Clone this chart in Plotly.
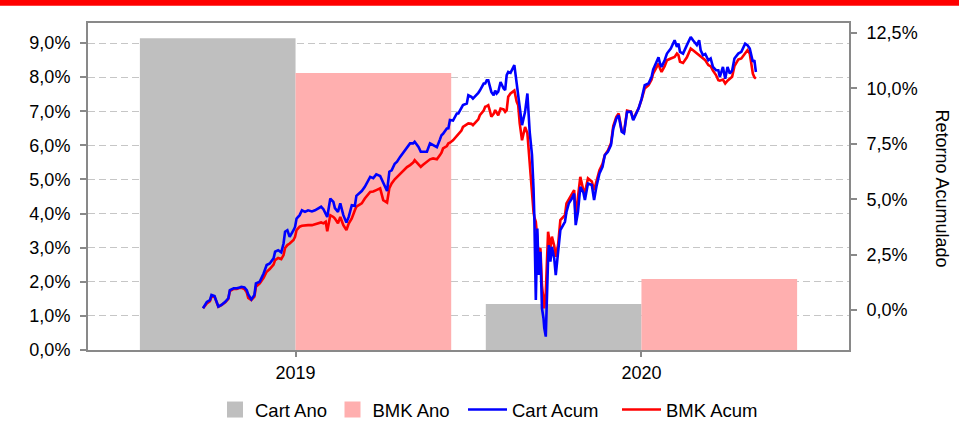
import pandas as pd
import plotly.graph_objects as go

# ---------------- data ----------------
years = ["2019", "2020"]
cart_ano = [9.14, 1.35]   # % annual return (left axis)
bmk_ano = [8.12, 2.08]

start_date = "2019-01-02"
day_offset = [0,5,9,11,15,18,20,24,29,33,35,40,44,48,50,54,57,59,63,67,69,74,79,83,87,92,94,98,102,105,
              107,110,113,118,120,122,126,129,133,137,142,146,150,154,157,160,162,166,170,172,176,179,183,187,190,194,198,200,207,211,
              218,222,226,231,235,240,243,246,250,253,257,261,266,270,274,276,281,284,287,292,296,300,305,309,311,313,318,320,322,326,
              331,333,337,339,344,346,350,352,359,361,366,368,370,372,374,376,379,381,383,385,388,392,394,396,398,401,406,409,411,413,
              416,420,423,426,429,431,432,434,436,437,438,440,442,444,445,447,448,449,450,451,453,455,458,460,463,466,472,474,477,481,
              484,486,489,492,496,498,502,507,510,513,517,521,524,528,532,535,539,542,546,549,553,558,561,565,568,572,576,581,585,587,
              592,594,596,598,602,605,610,615,618,620,622,626,631,636,639,644,647,649,652,655,659,662,665,669,672,674,678,681,684,687,
              690,693,698,702,707,710,713,717,719,721]

cart_acum = [0.08,0.37,0.45,0.68,0.63,0.37,0.15,0.23,0.37,0.53,0.90,0.98,0.98,1.02,1.05,1.02,0.90,0.70,0.48,0.68,1.20,1.28,1.65,2.03,2.10,2.33,2.63,2.70,2.60,3.00,
             3.53,3.60,3.30,3.60,3.75,4.13,4.28,4.50,4.43,4.50,4.45,4.50,4.58,4.66,4.55,4.36,4.20,5.03,4.88,4.60,4.43,4.81,4.28,3.95,4.20,4.73,4.70,5.15,5.37,5.56,
             6.01,5.95,6.12,6.05,5.71,5.37,6.24,6.30,6.60,6.69,6.91,7.10,7.33,7.52,7.52,7.59,7.36,7.14,7.14,7.14,7.52,7.45,7.35,7.70,7.89,7.95,8.19,8.20,8.57,8.55,
             8.87,8.87,9.17,9.25,9.32,9.69,9.62,9.54,9.80,9.90,10.22,10.22,10.37,10.37,10.10,9.84,9.69,9.90,9.77,9.85,10.29,9.99,9.92,10.60,10.74,10.70,11.05,10.29,9.84,9.20,
             8.34,8.94,9.77,8.04,7.00,5.49,4.28,0.45,3.68,2.50,1.58,2.63,0.08,-0.37,-0.80,-1.20,0.50,1.73,2.30,2.93,2.18,2.85,2.33,1.58,2.63,3.61,3.98,4.43,4.81,5.03,
             5.26,3.83,4.43,5.56,5.30,4.96,5.71,5.64,4.96,5.56,6.16,6.46,6.99,7.14,7.44,8.19,8.64,8.79,8.04,7.97,8.94,8.94,8.57,8.87,9.09,9.54,10.14,10.22,10.52,10.85,
             11.30,11.40,11.12,10.97,11.27,11.57,11.80,12.17,11.87,12.02,11.65,11.57,11.95,12.32,12.17,11.95,12.17,11.72,11.50,11.55,11.27,11.35,10.97,10.82,10.82,10.52,10.97,10.44,10.97,10.67,
             10.80,11.35,11.57,11.65,12.02,11.95,11.80,11.20,11.27,10.74]

bmk_acum = [0.08,0.30,0.40,0.60,0.60,0.35,0.15,0.22,0.35,0.50,0.85,0.95,0.95,1.00,1.00,0.95,0.80,0.55,0.45,0.60,1.05,1.20,1.45,1.73,1.85,2.05,2.25,2.35,2.30,2.48,
            2.80,2.93,3.00,3.16,3.30,3.61,3.76,3.80,3.83,3.83,3.83,3.86,3.90,3.95,3.91,3.98,3.55,4.28,4.20,4.13,3.91,4.20,3.83,3.61,3.90,4.13,4.50,4.66,4.81,5.03,
            5.33,5.35,5.41,5.49,4.96,4.85,5.50,5.71,5.90,6.01,6.15,6.31,6.45,6.54,6.65,6.76,6.60,6.46,6.55,6.69,6.80,6.84,6.80,6.99,7.10,7.29,7.40,7.52,7.55,7.66,
            7.85,7.97,8.10,8.26,8.35,8.42,8.40,8.34,8.60,8.79,9.00,9.17,9.20,9.24,9.00,8.72,8.85,9.02,8.90,8.79,9.09,9.05,8.94,9.02,9.62,9.77,9.90,9.40,9.24,8.42,
            7.66,8.26,7.97,6.69,5.03,4.43,4.20,3.98,3.20,2.63,2.70,2.78,1.13,0.50,0.08,0.80,1.95,2.80,3.53,3.30,2.78,3.31,2.90,2.40,2.93,4.06,4.28,4.81,5.00,5.25,
            5.41,4.20,5.00,6.01,5.41,5.30,5.94,5.80,5.41,5.80,6.31,6.60,6.99,7.20,7.52,8.30,8.72,8.87,8.10,8.00,9.00,8.95,8.60,8.90,9.10,9.50,10.00,10.14,10.40,10.67,
            11.00,11.12,10.90,10.74,11.00,11.27,11.35,11.42,11.57,11.50,11.20,11.15,11.40,11.80,11.72,11.57,11.50,11.42,11.35,11.27,11.05,11.00,10.80,10.60,10.37,10.35,10.40,10.22,10.35,10.45,
            10.52,11.00,11.30,11.35,11.60,11.72,11.57,10.67,10.50,10.44]

dates = pd.Timestamp(start_date) + pd.to_timedelta(day_offset, unit="D")

# ---------------- styles ----------------
FONT = "Arial, Liberation Sans, sans-serif"
AXIS_GRAY = "#898989"
GRID_GRAY = "#c6c6c6"
TICK_SIZE = 18
LEG_SIZE = 18.5
CART_BAR = "#bfbfbf"
BMK_BAR = "#ffafaf"

fig = go.Figure()
fig.add_trace(go.Bar(x=years, y=cart_ano, name="Cart Ano", marker=dict(color=CART_BAR, line=dict(width=0)),
                     xaxis="x", yaxis="y", showlegend=False))
fig.add_trace(go.Bar(x=years, y=bmk_ano, name="BMK Ano", marker=dict(color=BMK_BAR, line=dict(width=0)),
                     xaxis="x", yaxis="y", showlegend=False))
# legend entries for the bars (larger square swatches)
fig.add_trace(go.Scatter(x=[None], y=[None], name="Cart Ano", mode="markers",
                         marker=dict(symbol="square", size=16, color=CART_BAR), legend="legend"))
fig.add_trace(go.Scatter(x=[None], y=[None], name="BMK Ano", mode="markers",
                         marker=dict(symbol="square", size=16, color=BMK_BAR), legend="legend2"))
fig.add_trace(go.Scatter(x=dates, y=bmk_acum, name="BMK Acum", mode="lines",
                         line=dict(color="#ff0000", width=2.6), xaxis="x2", yaxis="y2", legend="legend4"))
fig.add_trace(go.Scatter(x=dates, y=cart_acum, name="Cart Acum", mode="lines",
                         line=dict(color="#0000ff", width=2.6), xaxis="x2", yaxis="y2", legend="legend3"))

LEG_Y = (421 - 410) / 421


def leg(x, iw):
    return dict(orientation="h", x=x, xanchor="left", xref="paper", y=LEG_Y, yanchor="middle",
                yref="container", font=dict(size=LEG_SIZE), itemwidth=iw, bgcolor="rgba(0,0,0,0)")


fig.update_layout(
    width=959, height=421,
    margin=dict(l=88, r=110, t=23, b=71, autoexpand=False),
    paper_bgcolor="white", plot_bgcolor="white",
    font=dict(family=FONT, size=TICK_SIZE, color="#000000"),
    separators=",.",
    barmode="group", bargap=0.1, bargroupgap=0,
    showlegend=True,
    legend=leg((215 - 88) / 761, 30),
    legend2=leg((332.5 - 88) / 761, 30),
    legend3=leg((463 - 88) / 761, 39),
    legend4=leg((617 - 88) / 761, 39),
    xaxis=dict(type="category", range=[-0.6, 1.6], showline=True, linecolor=AXIS_GRAY, linewidth=2,
               mirror=True, ticks="outside", ticklen=5, tickwidth=2, tickcolor=AXIS_GRAY,
               showgrid=False, ticklabelstandoff=0, tickfont=dict(size=TICK_SIZE)),
    xaxis2=dict(type="date", overlaying="x", range=["2018-08-05", "2021-04-23 10:00"], visible=False),
    yaxis=dict(range=[0, 9.587], dtick=1, tick0=0, tickformat=".1f", ticksuffix="%",
               showline=True, linecolor=AXIS_GRAY, linewidth=2, ticks="outside", ticklen=6, tickwidth=2,
               tickcolor=AXIS_GRAY, showgrid=True, gridcolor=GRID_GRAY, gridwidth=1.3, griddash="7px,4px",
               zeroline=False, ticklabelstandoff=6, tickfont=dict(size=TICK_SIZE)),
    yaxis2=dict(range=[-1.803, 12.95], dtick=2.5, tick0=0, tickformat=".1f", ticksuffix="%",
                overlaying="y", side="right", showline=True, linecolor=AXIS_GRAY, linewidth=2,
                ticks="outside", ticklen=6, tickwidth=2, tickcolor=AXIS_GRAY, showgrid=False,
                zeroline=False, ticklabelstandoff=6, tickfont=dict(size=TICK_SIZE)),
    shapes=[dict(type="rect", xref="paper", yref="paper", x0=-0.2, x1=1.2,
                 y0=1 + (23 - 5.7) / 327, y1=1 + 30 / 327, fillcolor="#ff0000", line=dict(width=0),
                 layer="above")],
    annotations=[dict(text="Retorno Acumulado", xref="paper", yref="paper", x=1.1218, y=0.495,
                      textangle=90, showarrow=False, font=dict(size=TICK_SIZE, family=FONT),
                      xanchor="center", yanchor="middle")],
)

fig.write_html("out.html", config={"displayModeBar": False},
               post_script="document.body.style.margin='0px';")
